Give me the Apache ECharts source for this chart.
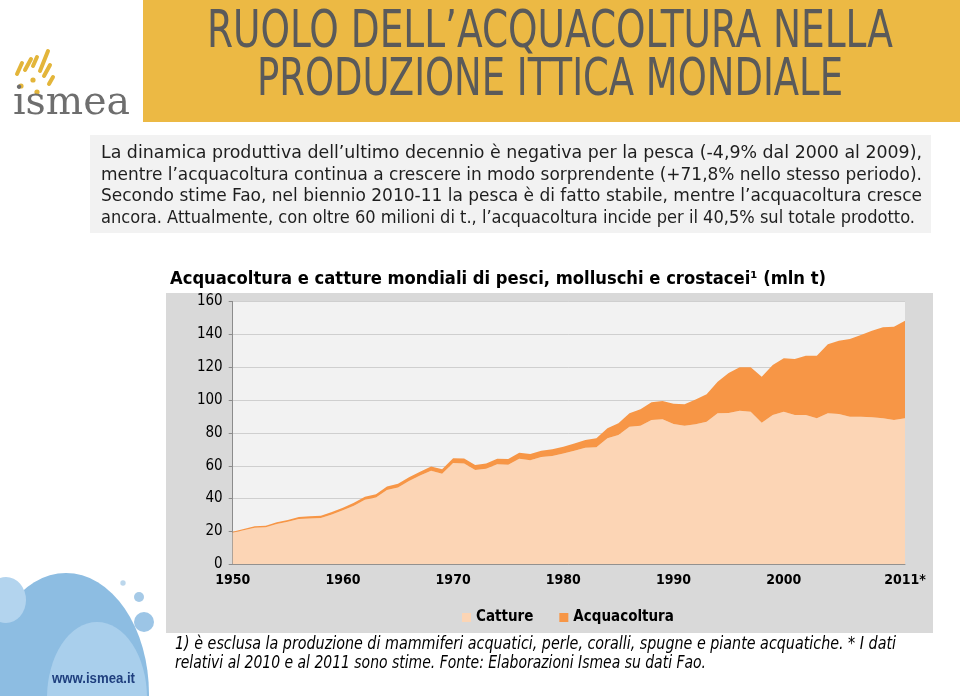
<!DOCTYPE html>
<html>
<head>
<meta charset="utf-8">
<script src="https://cdn.jsdelivr.net/npm/echarts@6/dist/echarts.min.js"></script>
<style>
html,body{margin:0;padding:0;background:#ffffff;}
#chart{width:960px;height:696px;}
</style>
</head>
<body>
<div id="chart"></div>
<script>
// ---- data ----
var years = ['1950','1951','1952','1953','1954','1955','1956','1957','1958','1959',
  '1960','1961','1962','1963','1964','1965','1966','1967','1968','1969',
  '1970','1971','1972','1973','1974','1975','1976','1977','1978','1979',
  '1980','1981','1982','1983','1984','1985','1986','1987','1988','1989',
  '1990','1991','1992','1993','1994','1995','1996','1997','1998','1999',
  '2000','2001','2002','2003','2004','2005','2006','2007','2008','2009',
  '2010','2011*'];
var catture = [19.2, 20.8, 22.3, 22.6, 24.6, 25.9, 27.6, 27.9, 28.2, 30.3,
  32.9, 35.7, 39.3, 40.6, 45.2, 46.8, 50.7, 54.0, 57.0, 55.1,
  61.7, 61.4, 57.4, 58.1, 60.9, 60.6, 64.3, 63.3, 65.3, 66.0,
  67.4, 69.2, 71.0, 71.2, 76.7, 78.7, 83.8, 84.4, 87.9, 88.3,
  85.4, 84.4, 85.2, 86.8, 91.9, 92.1, 93.5, 92.9, 86.2, 90.9,
  92.9, 90.9, 90.9, 88.9, 91.9, 91.5, 89.9, 89.9, 89.5, 88.9,
  87.9, 88.9];
var acquacoltura = [0.6, 0.7, 0.8, 0.9, 1.0, 1.1, 1.2, 1.3, 1.4, 1.5,
  1.6, 1.8, 1.9, 2.0, 2.1, 2.2, 2.3, 2.4, 2.6, 2.7,
  2.9, 3.0, 3.1, 3.2, 3.4, 3.5, 3.6, 3.8, 3.9, 4.0,
  4.2, 4.4, 4.7, 5.5, 6.1, 7.1, 8.1, 10.0, 10.7, 11.1,
  12.4, 13.0, 15.2, 16.7, 19.3, 24.4, 26.4, 27.0, 28.0, 30.4,
  32.5, 34.1, 36.1, 38.1, 42.0, 44.6, 47.3, 49.7, 52.7, 55.4,
  56.8, 59.4];
var seriesNames = ['Catture', 'Acquacoltura'];
var yMin = 0, yMax = 160, yStep = 20;

var headTitle = ['RUOLO DELL\u2019ACQUACOLTURA NELLA', 'PRODUZIONE ITTICA MONDIALE'];
var paragraph = [
  'La dinamica produttiva dell\u2019ultimo decennio \u00e8 negativa per la pesca (-4,9% dal 2000 al 2009),',
  'mentre l\u2019acquacoltura continua a crescere in modo sorprendente (+71,8% nello stesso periodo).',
  'Secondo stime Fao, nel biennio 2010-11 la pesca \u00e8 di fatto stabile, mentre l\u2019acquacoltura cresce',
  'ancora. Attualmente, con oltre 60 milioni di t., l\u2019acquacoltura incide per il 40,5% sul totale prodotto.'
];
var chartTitle = 'Acquacoltura e catture mondiali di pesci, molluschi e crostacei\u00b9 (mln t)';
var footnote = [
  '1) \u00e8 esclusa la produzione di mammiferi acquatici, perle, coralli, spugne e piante acquatiche. * I dati',
  'relativi al 2010 e al 2011 sono stime. Fonte: Elaborazioni Ismea su dati Fao.'
];

// ---- helpers ----
var mctx = document.createElement('canvas').getContext('2d');
function fitText(text, font, left, right, cy, fill, z) {
  mctx.font = font;
  var w = mctx.measureText(text).width;
  var s = (right - left) / w;
  return {type:'text', x:left, y:cy, scaleX:s, z: z || 10,
    style:{text:text, font:font, fill:fill, align:'left', verticalAlign:'middle'}};
}
function oval(cx, cy, rx, ry, fill, z) {
  return {type:'circle', x:cx, y:cy, scaleX:rx/ry, z:z, shape:{cx:0, cy:0, r:ry}, style:{fill:fill}};
}

var COND = '"DejaVu Sans Condensed","Liberation Sans Narrow","DejaVu Sans",sans-serif';
var graphics = [];
// orange header band
graphics.push({type:'rect', z:1, shape:{x:143, y:0, width:817, height:122}, style:{fill:'#ecb944'}});
graphics.push(fitText(headTitle[0], '51px ' + COND, 207, 893, 34, '#5a5a5a'));
graphics.push(fitText(headTitle[1], '51px ' + COND, 257, 843, 82, '#5a5a5a'));
// paragraph box
graphics.push({type:'rect', z:1, shape:{x:90, y:135, width:841, height:98}, style:{fill:'#f2f2f2'}});
var pLines = [[101,922,153],[101,922,175],[101,922,196],[101,915,218]];
for (var i = 0; i < paragraph.length; i++) {
  graphics.push(fitText(paragraph[i], '18px ' + COND, pLines[i][0], pLines[i][1], pLines[i][2], '#1e1e1e'));
}
// chart title
graphics.push(fitText(chartTitle, 'bold 17px "DejaVu Sans",sans-serif', 170, 826, 280, '#000000'));
// chart panel
graphics.push({type:'rect', z:-5, shape:{x:166, y:293, width:767, height:340}, style:{fill:'#d9d9d9'}});
// footnote
graphics.push(fitText(footnote[0], 'italic 17px ' + COND, 175, 896, 645, '#000000'));
graphics.push(fitText(footnote[1], 'italic 17px ' + COND, 175, 706, 664, '#000000'));

// logo
var yellow = '#e3b53a';
var dashes = [[17,74,22,63],[25,70,31,59],[33,66,37,57],[40,71,48,51],[44,76,50,65],[49,84,53,77]];
dashes.forEach(function(d){
  graphics.push({type:'line', z:5, shape:{x1:d[0],y1:d[1],x2:d[2],y2:d[3]}, style:{stroke:yellow, lineWidth:4, lineCap:'round'}});
});
[[21,86],[33,80],[37,92]].forEach(function(p){
  graphics.push({type:'circle', z:5, shape:{cx:p[0], cy:p[1], r:2.6}, style:{fill:yellow}});
});
graphics.push(fitText('ismea', '40px "DejaVu Serif",serif', 13, 130, 104, '#6e6e6e'));

// bottom-left bubbles
graphics.push(oval(66, 694, 83, 121, '#8dbde2', 2));
graphics.push(oval(6, 600, 20, 23, '#b3d4ee', 3));
graphics.push(oval(97, 698, 50, 76, '#a9cfec', 3));
graphics.push({type:'circle', z:3, shape:{cx:123, cy:583, r:2.7}, style:{fill:'#bcd7ec'}});
graphics.push({type:'circle', z:3, shape:{cx:139, cy:597, r:5}, style:{fill:'#a6cae7'}});
graphics.push({type:'circle', z:3, shape:{cx:144, cy:622, r:10}, style:{fill:'#9cc5e6'}});
graphics.push(fitText('www.ismea.it', 'bold 14px "Liberation Sans",Arial,sans-serif', 52, 135, 679, '#1f3f7e', 6));

var chart = echarts.init(document.getElementById('chart'), null, {renderer:'canvas'});
chart.setOption({
  backgroundColor:'#ffffff',
  animation:false,
  graphic:{elements:graphics},
  legend:{
    data:seriesNames, left:457, top:605, itemWidth:9, itemHeight:9, itemGap:26,
    icon:'rect',
    textStyle:{fontFamily:'"DejaVu Sans Condensed","Liberation Sans Narrow",sans-serif', fontWeight:'bold', fontSize:15, color:'#000'}
  },
  grid:{left:232.7, right:55, top:301.5, bottom:131.7, show:true, backgroundColor:'#f2f2f2', borderWidth:0, z:0},
  xAxis:{
    type:'category', data:years, boundaryGap:false,
    axisLine:{show:true, lineStyle:{color:'#8c8c8c'}},
    axisTick:{show:false},
    axisLabel:{
      interval:function(i){ return (i % 10 === 0 && i < 60) || i === 61; },
      color:'#000', fontWeight:'bold', fontSize:14, margin:9,
      fontFamily:'"DejaVu Sans Condensed","Liberation Sans Narrow",sans-serif'
    },
    splitLine:{show:false}
  },
  yAxis:{
    type:'value', min:yMin, max:yMax, interval:yStep,
    axisLine:{show:true, lineStyle:{color:'#8c8c8c'}},
    axisTick:{show:true, length:4, lineStyle:{color:'#8c8c8c'}},
    axisLabel:{color:'#000', fontSize:15, margin:10, fontFamily:'"DejaVu Sans Condensed","Liberation Sans Narrow",sans-serif'},
    splitLine:{show:true, lineStyle:{color:'#cfcfcf', width:1}}
  },
  series:[
    {name:seriesNames[0], type:'line', stack:'tot', data:catture, symbol:'none',
     lineStyle:{width:0}, areaStyle:{color:'#fcd5b5', opacity:1}, itemStyle:{color:'#fcd5b5'}, z:2},
    {name:seriesNames[1], type:'line', stack:'tot', data:acquacoltura, symbol:'none',
     lineStyle:{width:0}, areaStyle:{color:'#f79646', opacity:1}, itemStyle:{color:'#f79646'}, z:2}
  ]
});
</script>
</body>
</html>
